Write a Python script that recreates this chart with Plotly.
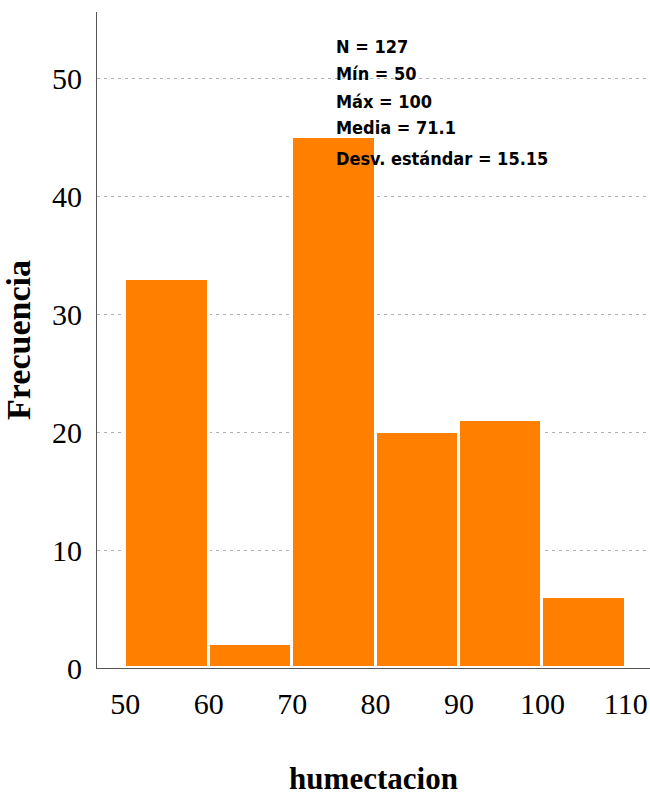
import plotly.graph_objects as go

# Frequency table for "humectacion" (bin width 10)
bin_starts = [50, 60, 70, 80, 90, 100]
counts = [33, 2, 45, 20, 21, 6]
bin_width = 10

stats_lines = ["N = 127", "Mín = 50", "Máx = 100", "Media = 71.1", "Desv. estándar = 15.15"]

x_ticks = [50, 60, 70, 80, 90, 100, 110]
y_ticks = [0, 10, 20, 30, 40, 50]

centers = [s + bin_width / 2 for s in bin_starts]

fig = go.Figure(
    go.Bar(
        x=centers,
        y=counts,
        width=[bin_width] * len(counts),
        marker=dict(color="#ff8000", line=dict(color="white", width=3)),
        hoverinfo="x+y",
    )
)

serif = "Liberation Serif, Times New Roman, serif"
narrow = "Liberation Sans Narrow, DejaVu Sans Condensed, Liberation Sans, Arial, sans-serif"

fig.update_layout(
    width=650,
    height=796,
    margin=dict(l=97, r=0, t=12, b=128),
    paper_bgcolor="white",
    plot_bgcolor="white",
    showlegend=False,
    bargap=0,
    xaxis=dict(
        range=[46.6, 112.9],
        tickvals=x_ticks,
        ticktext=[str(v) for v in x_ticks],
        showgrid=False,
        zeroline=False,
        showline=True,
        linecolor="#555555",
        linewidth=1,
        ticks="",
        ticklabelstandoff=9,
        tickfont=dict(family=serif, size=30, color="black"),
        title=dict(
            text="<b>humectacion</b>",
            font=dict(family=serif, size=31, color="black"),
            standoff=52,
        ),
    ),
    yaxis=dict(
        range=[0, 55.6],
        tickvals=y_ticks,
        ticktext=[str(v) for v in y_ticks],
        showgrid=True,
        gridcolor="#b0b0b0",
        gridwidth=1,
        griddash="3px,4px",
        zeroline=False,
        showline=True,
        linecolor="#555555",
        linewidth=1,
        ticks="",
        ticklabelstandoff=8,
        tickfont=dict(family=serif, size=30, color="black"),
        title=dict(
            text="<b>Frecuencia</b>",
            font=dict(family=serif, size=34, color="black"),
            standoff=18,
        ),
    ),
)

# Summary statistics block, one annotation per line
line_y = [52.7, 50.4, 48.0, 45.8, 43.2]
for text, yv in zip(stats_lines, line_y):
    fig.add_annotation(
        x=75.0,
        y=yv,
        xref="x",
        yref="y",
        text=f"<b>{text}</b>",
        showarrow=False,
        xanchor="left",
        yanchor="middle",
        font=dict(family=narrow, size=18, color="black"),
    )

fig.write_html("out.html")
